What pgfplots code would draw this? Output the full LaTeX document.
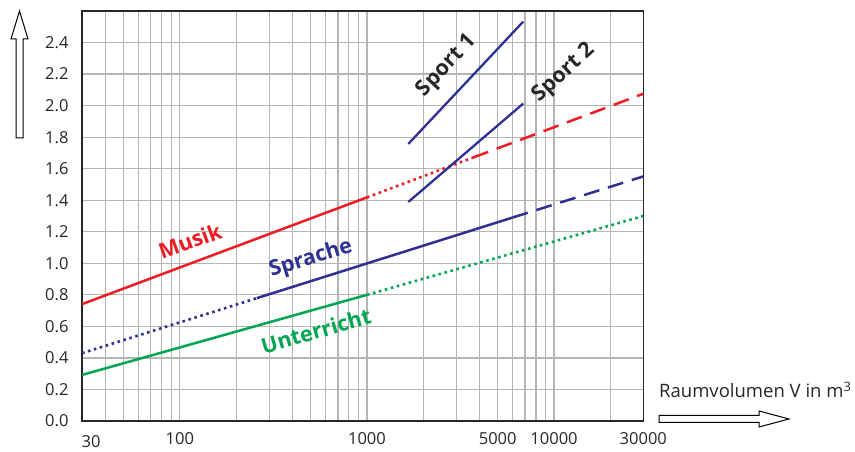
\documentclass[border=0pt]{standalone}
\usepackage{pgfplots}
\pgfplotsset{compat=1.18}
\usepackage{fontspec}
\setmainfont{Open Sans}
\definecolor{cred}{HTML}{EC1C24}
\definecolor{cblue}{HTML}{2E3192}
\definecolor{cgreen}{HTML}{00A651}
\definecolor{cgrid}{HTML}{B5B5B5}
\begin{document}
\begin{tikzpicture}[x=1pt,y=1pt]
\begin{axis}[
  at={(82pt,31pt)}, anchor=south west,
  scale only axis, width=561.3pt, height=410pt,
  xmode=log, xmin=30, xmax=30000, ymin=0, ymax=2.6,
  log basis x=10,
  xtick={40,50,60,70,80,90,100,200,300,400,500,600,700,800,900,1000,2000,3000,4000,5000,6000,7000,8000,9000,10000,20000},
  xticklabels={},
  extra x ticks={100,1000,5000,10000,30000},
  extra x tick labels={100,1000,5000,10000,30000},
  extra x tick style={grid=none},
  ytick={0,0.2,...,2.41},
  minor xtick={},
  grid=major,
  major grid style={draw=cgrid, line width=1.2pt},
  major tick length=0pt, minor tick length=0pt,
  axis line style={line width=1.6pt, black!85},
  /pgf/number format/assume math mode=true,
  yticklabel={\pgfmathprintnumber[fixed,fixed zerofill,precision=1]{\tick}},
  ticklabel style={font=\fontsize{16.5}{19}\selectfont, text=black!85},
  yticklabel style={xshift=-10pt},
  xticklabel style={yshift=-8pt},
  clip=false,
]
% Musik
\addplot[cred, line width=2.5pt] coordinates {(30,0.741) (1000,1.418)};
\addplot[cred, line width=2.6pt, dash pattern=on 2.6pt off 3.6pt] coordinates {(1000,1.418) (3700,1.671)};
\addplot[cred, line width=2.5pt, dash pattern=on 16pt off 9pt] coordinates {(3700,1.671) (30000,2.075)};
% Sprache
\addplot[cblue, line width=2.6pt, dash pattern=on 2.6pt off 3.6pt] coordinates {(30,0.430) (258,0.779)};
\addplot[cblue, line width=2.5pt] coordinates {(258,0.779) (6000,1.290)};
\addplot[cblue, line width=2.5pt, dash pattern=on 16pt off 9pt] coordinates {(6000,1.290) (30000,1.551)};
% Unterricht
\addplot[cgreen, line width=2.5pt] coordinates {(30,0.292) (1000,0.800)};
\addplot[cgreen, line width=2.6pt, dash pattern=on 2.6pt off 3.6pt] coordinates {(1000,0.800) (30000,1.300)};
% Sport
\addplot[cblue, line width=2.3pt] coordinates {(1664,1.757) (6850,2.533)};
\addplot[cblue, line width=2.3pt] coordinates {(1664,1.389) (6850,2.013)};
\end{axis}
% extra label 30
\node[font=\fontsize{16.5}{19}\selectfont, text=black!85, anchor=base] at (91,4) {30};
% labels
\node[font=\fontsize{21.5}{23}\selectfont\bfseries, text=cred, rotate=20] at (190,211) {Musik};
\node[font=\fontsize{21.5}{23}\selectfont\bfseries, text=cblue, rotate=17] at (311,193) {Sprache};
\node[font=\fontsize{21.5}{23}\selectfont\bfseries, text=cgreen, rotate=16] at (316,121) {Unterricht};
\node[font=\fontsize{21.5}{23}\selectfont\bfseries, text=black!85, rotate=47] at (447,386) {Sport 1};
\node[font=\fontsize{21.5}{23}\selectfont\bfseries, text=black!85, rotate=42] at (564,379) {Sport 2};
% axis titles
\node[font=\fontsize{18.5}{20}\selectfont, text=black!85, anchor=base west, inner sep=0pt] at (659,54) {Raumvolumen V in m\textsuperscript{3}};
% arrows
\draw[line width=1pt, fill=white] (19.5,441) -- (28,413) -- (23,413) -- (23,314) -- (16,314) -- (16,413) -- (11,413) -- cycle;
\draw[line width=1pt, fill=white] (789,33) -- (759,41) -- (759,36.5) -- (659,36.5) -- (659,29.5) -- (759,29.5) -- (759,25) -- cycle;
\pgfresetboundingbox
\useasboundingbox (0,0) rectangle (855,452);
\end{tikzpicture}
\end{document}
